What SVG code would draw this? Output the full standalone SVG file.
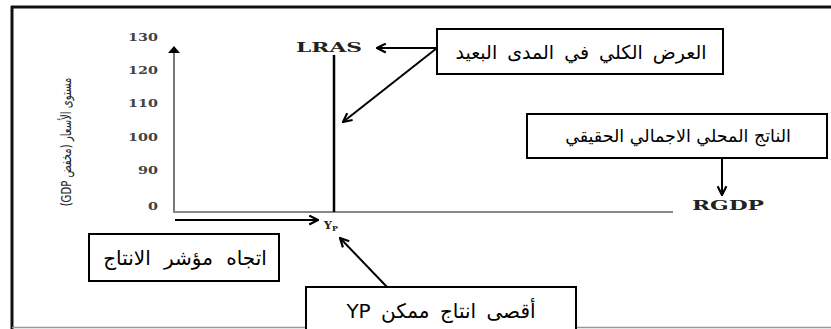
<svg xmlns="http://www.w3.org/2000/svg" width="831" height="329" viewBox="0 0 831 329">
<defs>
<style>
.box{fill:#fff;stroke:#000;stroke-width:2}
.ar{font-family:"DejaVu Sans",sans-serif;font-size:17px;fill:#000;text-anchor:middle;dominant-baseline:central}
.tick{font-family:"DejaVu Serif",serif;font-weight:bold;font-size:11px;fill:#444;text-anchor:end;dominant-baseline:central}
.lab{font-family:"DejaVu Serif",serif;font-weight:bold;font-size:12px;fill:#222;text-anchor:middle;dominant-baseline:central}
.conn{stroke:#000;stroke-width:2;fill:none}
</style>
<marker id="ah" viewBox="0 0 10 10" refX="9" refY="5" markerWidth="5.5" markerHeight="5.5" orient="auto" markerUnits="strokeWidth">
<path d="M1,1 L9,5 L1,9" fill="none" stroke="#000" stroke-width="2"/>
</marker>
</defs>
<rect width="831" height="329" fill="#fff"/>
<g id="frame">
<line x1="11" y1="7" x2="831" y2="7" stroke="#111" stroke-width="3"/>
<line x1="12" y1="6" x2="12" y2="329" stroke="#111" stroke-width="3"/>
<line x1="12" y1="327.5" x2="831" y2="327.5" stroke="#999" stroke-width="1.5"/>
</g>
<g id="axes">
<line x1="174" y1="212" x2="174" y2="52" stroke="#777" stroke-width="2"/>
<path d="M168,53 L174,46 L180,53 Z" fill="#000"/>
<line x1="173" y1="212" x2="673" y2="212" stroke="#888" stroke-width="2"/>
<text class="tick" x="158" y="37" textLength="30" lengthAdjust="spacingAndGlyphs">130</text>
<text class="tick" x="158" y="70" textLength="30" lengthAdjust="spacingAndGlyphs">120</text>
<text class="tick" x="158" y="103" textLength="30" lengthAdjust="spacingAndGlyphs">110</text>
<text class="tick" x="158" y="137" textLength="30" lengthAdjust="spacingAndGlyphs">100</text>
<text class="tick" x="158" y="170" textLength="20" lengthAdjust="spacingAndGlyphs">90</text>
<text class="tick" x="158" y="206" textLength="10" lengthAdjust="spacingAndGlyphs">0</text>
<text transform="translate(66,142) rotate(-90) scale(0.72,1)" style="font-family:'DejaVu Sans',sans-serif;font-size:14px;fill:#222;text-anchor:middle;dominant-baseline:central" direction="rtl">مستوى الأسعار (مخفض GDP)</text>
</g>
<g id="lras">
<line x1="334" y1="55" x2="334" y2="212" stroke="#000" stroke-width="2.5"/>
<text class="lab" x="329" y="48" textLength="66" lengthAdjust="spacingAndGlyphs">LRAS</text>
</g>
<g id="rgdp">
<text class="lab" x="728" y="206" textLength="72" lengthAdjust="spacingAndGlyphs">RGDP</text>
</g>
<g id="yp">
<text class="lab" x="331" y="225" style="font-size:11px">Y<tspan dy="3" style="font-size:8px">P</tspan></text>
</g>
<g id="box-lras">
<rect class="box" x="437" y="29" width="286" height="45"/>
<text class="ar" x="581" y="52" direction="rtl" style="font-size:19px;word-spacing:4px">العرض الكلي في المدى البعيد</text>
</g>
<g id="box-rgdp">
<rect class="box" x="527" y="114" width="300" height="44"/>
<text class="ar" x="678" y="136" direction="rtl" style="font-size:17.5px">الناتج المحلي الاجمالي الحقيقي</text>
</g>
<g id="box-direction">
<rect class="box" x="89" y="234" width="190" height="47"/>
<text class="ar" x="185" y="258" direction="rtl" style="font-size:20px;word-spacing:7px">اتجاه مؤشر الانتاج</text>
</g>
<g id="box-yp">
<rect class="box" x="306" y="287" width="270" height="50"/>
<text class="ar" x="441" y="311" direction="rtl" style="font-size:20px;word-spacing:4px">أقصى انتاج ممكن YP</text>
</g>
<g id="connectors">
<line class="conn" x1="437" y1="48" x2="377" y2="48" marker-end="url(#ah)"/>
<line class="conn" x1="437" y1="48" x2="343" y2="122" marker-end="url(#ah)"/>
<line class="conn" x1="722" y1="158" x2="722" y2="195" marker-end="url(#ah)"/>
<line class="conn" x1="175" y1="220" x2="318" y2="220" marker-end="url(#ah)"/>
<line class="conn" x1="387" y1="287" x2="340" y2="238" marker-end="url(#ah)"/>
</g>
</svg>
